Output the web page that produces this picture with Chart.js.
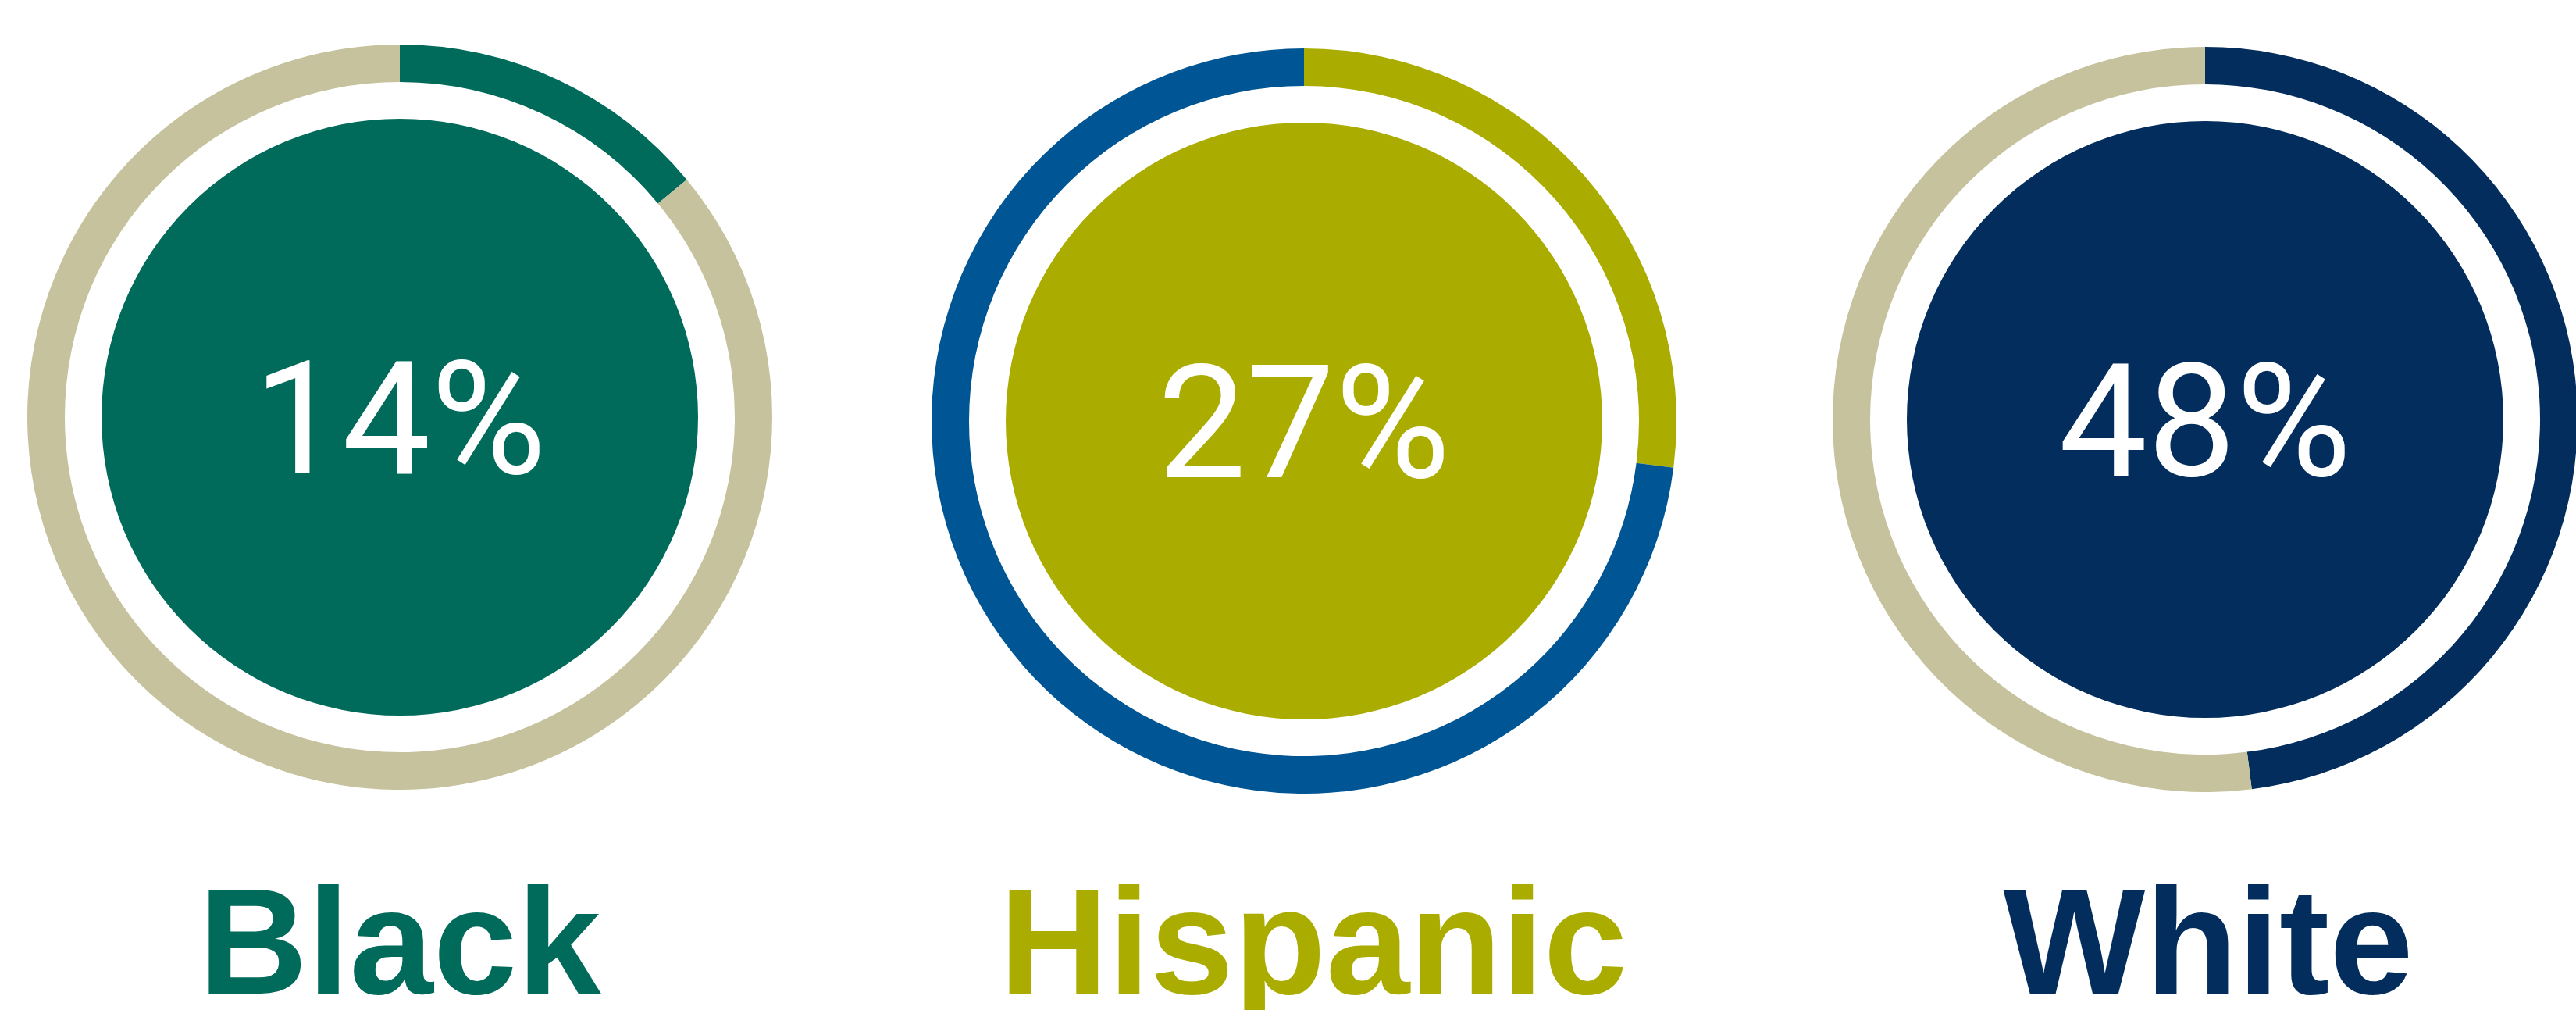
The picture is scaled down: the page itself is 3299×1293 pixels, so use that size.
<!DOCTYPE html>
<html>
<head>
<meta charset="utf-8">
<script src="https://cdn.jsdelivr.net/npm/chart.js@4.4.1/dist/chart.umd.min.js"></script>
<style>
  html, body { margin: 0; padding: 0; background: #ffffff; }
  body { width: 3299px; height: 1293px; position: relative; overflow: hidden; }
  .ring-box { position: absolute; width: 954px; height: 954px; }
  .pct {
    position: absolute; width: 700px; text-align: center; color: #ffffff;
    font-family: Roboto, "Liberation Sans", sans-serif; font-weight: 400;
    font-size: 202px; line-height: 202px; white-space: nowrap;
  }
  .group-label {
    position: absolute; width: 1000px; text-align: center;
    font-family: "Liberation Sans", Arial, sans-serif; font-weight: 700;
    font-size: 193px; line-height: 193px; white-space: nowrap;
  }
</style>
</head>
<body>
<script>
// data
const groups = ['Black', 'Hispanic', 'White'];
const shares = [14, 27, 48];            // percent of each group
const rest = shares.map(s => 100 - s);  // remaining part of the ring

// styles
const mainColors = ['#006b5a', '#aaad00', '#022d5d'];
const restColors = ['#c5c29d', '#005694', '#c5c29d'];
const centers = [[512, 534], [1670, 539], [2824, 537]];
const labelShift = [0, 12, 4]; // small x nudges of the names
const boxSize = 954;

groups.forEach((name, i) => {
  const [cx, cy] = centers[i];

  const box = document.createElement('div');
  box.className = 'ring-box';
  box.style.left = (cx - boxSize / 2) + 'px';
  box.style.top = (cy - boxSize / 2) + 'px';
  const canvas = document.createElement('canvas');
  canvas.width = boxSize;
  canvas.height = boxSize;
  box.appendChild(canvas);
  document.body.appendChild(box);

  new Chart(canvas.getContext('2d'), {
    type: 'doughnut',
    data: {
      labels: [name, 'Other'],
      datasets: [
        {
          // outer ring: share vs rest
          data: [shares[i], rest[i]],
          backgroundColor: [mainColors[i], restColors[i]],
          weight: 48,
        },
        {
          // white gap between ring and disc
          data: [100],
          backgroundColor: ['rgba(0,0,0,0)'],
          weight: 47,
        },
        {
          // filled center disc
          data: [100],
          backgroundColor: [mainColors[i]],
          weight: 382,
        },
      ],
    },
    options: {
      responsive: false,
      devicePixelRatio: 1,
      animation: false,
      events: [],
      cutout: 0,
      borderWidth: 0,
      hoverOffset: 0,
      layout: { padding: 0 },
      plugins: {
        legend: { display: false },
        tooltip: { enabled: false },
      },
    },
  });

  // percentage in the middle (baseline about 72px under the centre)
  const pct = document.createElement('div');
  pct.className = 'pct';
  pct.textContent = shares[i] + '%';
  pct.style.left = (cx - 350) + 'px';
  pct.style.top = (cy + 72 - 170) + 'px';
  document.body.appendChild(pct);

  // group name under the ring
  const lab = document.createElement('div');
  lab.className = 'group-label';
  lab.textContent = name;
  lab.style.color = mainColors[i];
  lab.style.left = (cx - 500 + labelShift[i]) + 'px';
  lab.style.top = '1109px';
  document.body.appendChild(lab);
});
</script>
</body>
</html>
